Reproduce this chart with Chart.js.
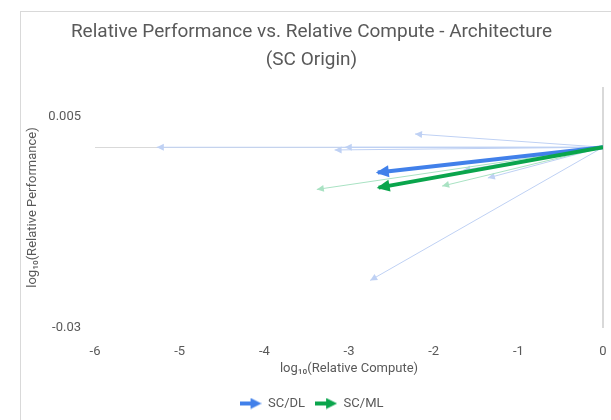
<!DOCTYPE html>
<html><head><meta charset="utf-8">
<script src="https://cdn.jsdelivr.net/npm/chart.js@4"></script>
<style>
html,body{margin:0;padding:0;background:#fff;width:611px;height:420px;overflow:hidden}
#c{position:absolute;left:0;top:0}
#frame{position:absolute;left:20px;top:11px;width:600px;height:420px;border-top:1px solid #d9d9d9;border-left:1px solid #d9d9d9;pointer-events:none}
</style></head><body>
<canvas id="c" width="611" height="420"></canvas>
<div id="frame"></div>
<script>
// ---- data ----
const seriesNames = ['SC/DL', 'SC/ML'];
const dlRunsX = [-5.27, -3.05, -3.17, -2.22, -1.65, -1.36, -2.75];
const dlRunsY = [0.0000, 0.0000, -0.00045, 0.0022, -0.0038, -0.0051, -0.0221];
const mlRunsX = [-3.38, -1.90];
const mlRunsY = [-0.0070, -0.00645];
const meanX = [-2.66, -2.65];      // SC/DL, SC/ML
const meanY = [-0.0042, -0.0067];
const xTicks = [-6, -5, -4, -3, -2, -1, 0];
const yTicks = [-0.03, 0.005];
const originX = 0, originY = 0;

const FONT = 'Roboto, "Noto Sans", sans-serif';
const TXT = '#595959';
const C_DL = '#4180ea', C_ML = '#0aa54c';
const C_DL_LIGHT = '#bfd1f4', C_ML_LIGHT = '#a9e2c3';

function arrowDs(x, y, color, width, head, label) {
  return {
    label: label,
    data: [{x: originX, y: originY}, {x: x, y: y}],
    showLine: true, borderColor: color, backgroundColor: color,
    borderWidth: width, pointRadius: 0, pointHoverRadius: 0,
    headLength: head[0], headWidth: head[1], headExtend: head[2]
  };
}
const datasets = [];
datasets.push(arrowDs(meanX[1], meanY[1], C_ML, 4, [13, 12, 2], seriesNames[1]));
datasets.push(arrowDs(meanX[0], meanY[0], C_DL, 4, [13, 12, 2], seriesNames[0]));
mlRunsX.forEach((x, i) => datasets.push(arrowDs(x, mlRunsY[i], C_ML_LIGHT, 1, [7, 7, 0], seriesNames[1])));
dlRunsX.forEach((x, i) => datasets.push(arrowDs(x, dlRunsY[i], C_DL_LIGHT, 1, [7, 7, 0], seriesNames[0])));

const arrowHeads = {
  id: 'arrowHeads',
  afterDatasetDraw(chart, args) {
    const ds = chart.data.datasets[args.index];
    const pts = args.meta.data;
    const a = pts[0], b = pts[pts.length - 1];
    const ang = Math.atan2(b.y - a.y, b.x - a.x);
    const ctx = chart.ctx;
    ctx.save();
    ctx.translate(b.x, b.y);
    ctx.rotate(ang);
    ctx.fillStyle = ds.borderColor;
    ctx.beginPath();
    ctx.moveTo(ds.headExtend, 0);
    ctx.lineTo(ds.headExtend - ds.headLength, -ds.headWidth / 2);
    ctx.lineTo(ds.headExtend - ds.headLength, ds.headWidth / 2);
    ctx.closePath();
    ctx.fill();
    ctx.restore();
  }
};

function arrowIcon(color) {
  const c = document.createElement('canvas');
  c.width = 22; c.height = 12;
  const g = c.getContext('2d');
  g.strokeStyle = color; g.lineWidth = 4;
  g.beginPath(); g.moveTo(0, 6); g.lineTo(13, 6); g.stroke();
  g.fillStyle = color;
  g.beginPath(); g.moveTo(22, 6); g.lineTo(11, 0.5); g.lineTo(11, 11.5); g.closePath(); g.fill();
  return c;
}
const icons = [arrowIcon(C_DL), arrowIcon(C_ML)];

new Chart(document.getElementById('c'), {
  type: 'scatter',
  data: { datasets: datasets },
  plugins: [arrowHeads],
  options: {
    responsive: false,
    animation: false,
    events: [],
    layout: { padding: { left: 20, right: 8, top: 0, bottom: 0 } },
    plugins: {
      tooltip: { enabled: false },
      title: {
        display: true,
        text: ['Relative Performance vs. Relative Compute - Architecture', '(SC Origin)'],
        color: TXT,
        font: { family: FONT, size: 19, weight: 'normal', lineHeight: 28 / 19 },
        padding: { top: 18, bottom: 13 }
      },
      legend: {
        position: 'bottom',
        labels: {
          usePointStyle: true,
          pointStyleWidth: 22,
          boxHeight: 12,
          padding: 10,
          color: TXT,
          font: { family: FONT, size: 13 },
          generateLabels: () => seriesNames.map((n, i) => ({
            text: n, pointStyle: icons[i], fontColor: TXT,
            fillStyle: 'transparent', strokeStyle: 'transparent', lineWidth: 0, hidden: false
          }))
        }
      }
    },
    scales: {
      x: {
        type: 'linear', min: xTicks[0], max: xTicks[xTicks.length - 1],
        afterBuildTicks: s => { s.ticks = xTicks.map(v => ({ value: v })); },
        afterFit: s => { s.height = 59; s.paddingLeft = 0; s.paddingRight = 0; },
        border: { display: false },
        grid: {
          drawTicks: false,
          color: c => (c.tick && c.tick.value === 0) ? '#d9d9d9' : 'rgba(0,0,0,0)',
          lineWidth: c => (c.tick && c.tick.value === 0) ? 2 : 0
        },
        ticks: { color: TXT, font: { family: FONT, size: 13 }, padding: 16, maxRotation: 0 },
        title: { display: true, text: 'log₁₀(Relative Compute)', color: TXT,
                 font: { family: FONT, size: 13 }, padding: { top: 2, bottom: 10 } }
      },
      y: {
        type: 'linear', min: -0.03, max: 0.01,
        afterBuildTicks: s => { s.ticks = [yTicks[0], 0, yTicks[1]].map(v => ({ value: v })); },
        afterFit: s => { s.width = 75; },
        border: { display: false },
        grid: {
          drawTicks: false,
          color: c => (c.tick && c.tick.value === 0) ? '#d9d9d9' : 'rgba(0,0,0,0)',
          lineWidth: c => (c.tick && c.tick.value === 0) ? 1 : 0
        },
        ticks: { color: TXT, font: { family: FONT, size: 13 }, padding: 14,
                 callback: v => (v === 0 ? '' : String(v)) },
        title: { display: true, text: 'log₁₀(Relative Performance)', color: TXT,
                 font: { family: FONT, size: 13 }, padding: { top: 5, bottom: 0 } }
      }
    }
  }
});
</script>
</body></html>
